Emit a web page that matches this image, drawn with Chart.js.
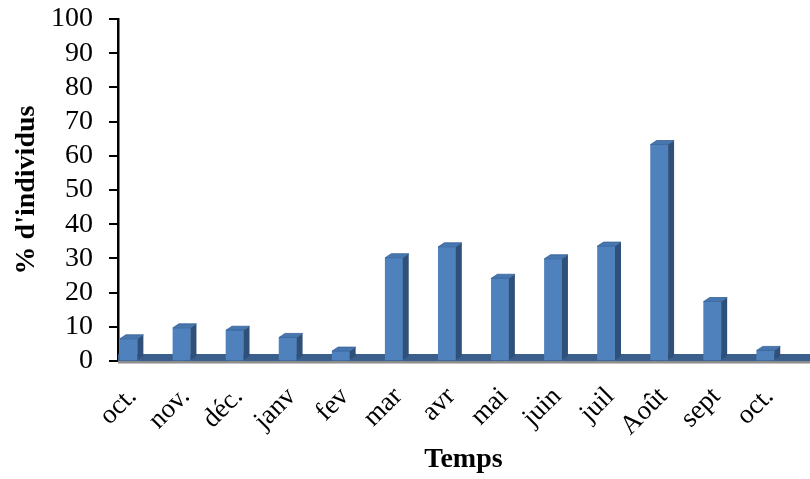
<!DOCTYPE html>
<html><head><meta charset="utf-8">
<script src="https://cdn.jsdelivr.net/npm/chart.js@4/dist/chart.umd.min.js"></script>
<style>html,body{margin:0;padding:0;background:#fff;}#wrap{width:810px;height:479px;}</style>
</head><body><div id="wrap"><canvas id="c" width="810" height="479"></canvas></div>
<script>
const categories = ["oct.","nov.","déc.","janv","fev","mar","avr","mai","juin","juil","Août","sept","oct."];
const values = [6.5, 9.7, 9.0, 6.9, 2.9, 30.2, 33.4, 24.2, 29.9, 33.6, 63.3, 17.4, 3.1];
const yTickValues = [0, 10, 20, 30, 40, 50, 60, 70, 80, 90, 100];
const yTitle = "% d'individus";
const xTitle = "Temps";

const FONT = "'Liberation Serif', 'Times New Roman', serif";
const DX = 6, DY = 4;

const bar3d = {
  id: 'bar3d',
  beforeDatasetsDraw(chart) {
    const { ctx, chartArea } = chart;
    const y0 = chart.scales.y.getPixelForValue(0);
    ctx.save();
    ctx.fillStyle = '#3A5F8C';
    ctx.fillRect(chartArea.left, y0 - 7, chart.width - chartArea.left, 7);
    ctx.fillStyle = '#8C8C8C';
    ctx.fillRect(chartArea.left, y0, chart.width - chartArea.left, 2.5);
    ctx.restore();
  },
  afterDatasetsDraw(chart) {
    const { ctx } = chart;
    const meta = chart.getDatasetMeta(0);
    ctx.save();
    meta.data.forEach(bar => {
      const p = bar.getProps(['x', 'y', 'base', 'width'], true);
      const l = p.x - p.width / 2, r = p.x + p.width / 2;
      ctx.beginPath();
      ctx.moveTo(r, p.y); ctx.lineTo(r + DX, p.y - DY);
      ctx.lineTo(r + DX, p.base - DY); ctx.lineTo(r, p.base); ctx.closePath();
      ctx.fillStyle = '#2F5079'; ctx.fill();
      ctx.beginPath();
      ctx.moveTo(l, p.y); ctx.lineTo(l + DX, p.y - DY);
      ctx.lineTo(r + DX, p.y - DY); ctx.lineTo(r, p.y); ctx.closePath();
      ctx.fillStyle = '#4677B1'; ctx.fill();
      ctx.strokeStyle = '#3A6296'; ctx.lineWidth = 0.8; ctx.stroke();
    });
    ctx.restore();
  }
};

new Chart(document.getElementById('c'), {
  type: 'bar',
  data: {
    datasets: [{
      data: values.map((v, i) => ({ x: i, y: v })),
      backgroundColor: '#4F81BD',
      borderWidth: 0,
      barThickness: 17.5
    }]
  },
  options: {
    responsive: false,
    animation: false,
    devicePixelRatio: 1,
    layout: { padding: { top: 19, right: 1, bottom: 0, left: 0 } },
    plugins: { legend: { display: false }, tooltip: { enabled: false } },
    scales: {
      x: {
        type: 'linear',
        offset: false,
        min: -0.2,
        max: 12.82,
        afterFit: s => { s.height = 118; s.paddingLeft = 0; s.paddingRight = 0; },
        grid: { display: false, drawTicks: false, offset: false },
        border: { display: false },
        ticks: {
          stepSize: 1,
          includeBounds: false,
          autoSkip: false,
          maxRotation: 45,
          minRotation: 45,
          padding: 20,
          labelOffset: 4,
          color: '#000',
          font: { family: FONT, size: 27 },
          callback: v => categories[v] !== undefined && Number.isInteger(v) ? categories[v] : ''
        },
        title: {
          display: true, text: xTitle, color: '#000',
          font: { family: FONT, size: 28, weight: 'bold' },
          padding: { top: 0, bottom: 2 }
        }
      },
      y: {
        min: 0, max: 100,
        afterFit: s => { s.width = 118; s.paddingTop = 0; s.paddingBottom = 0; },
        afterBuildTicks: s => { s.ticks = yTickValues.map(v => ({ value: v })); },
        grid: { display: true, drawOnChartArea: false, drawTicks: true, tickLength: 9, color: '#000', lineWidth: 2 },
        border: { display: true, color: '#000', width: 2.5 },
        ticks: {
          autoSkip: false,
          padding: 16,
          color: '#000',
          font: { family: FONT, size: 28 }
        },
        title: {
          display: true, text: yTitle, color: '#000',
          font: { family: FONT, size: 28, weight: 'bold' },
          padding: { top: 10, bottom: 0 }
        }
      }
    }
  },
  plugins: [bar3d]
});
</script>
</body></html>
